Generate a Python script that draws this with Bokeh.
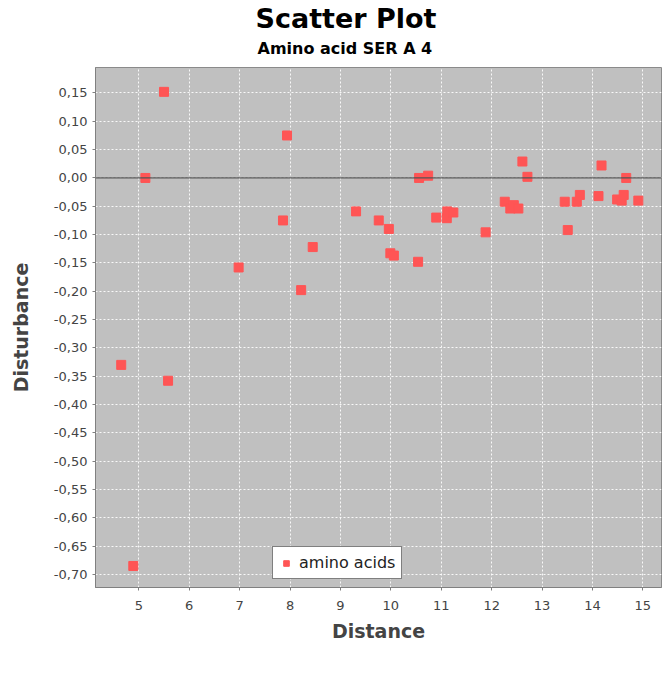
from bokeh.plotting import figure
from bokeh.models import (ColumnDataSource, FixedTicker, CustomJSTickFormatter, Span,
                          Title, Legend, LegendItem)
from bokeh.embed import file_html
from bokeh.resources import INLINE

# ---- data ----
distance = [4.65, 4.89, 5.13, 5.50, 5.58, 6.98, 7.86, 7.94, 8.22, 8.45,
            9.31, 9.76, 9.96, 9.99, 10.06, 10.54, 10.56, 10.74, 10.90, 11.11,
            11.12, 11.24, 11.88, 12.26, 12.37, 12.44, 12.53, 12.61, 12.71, 13.45,
            13.51, 13.69, 13.75, 14.12, 14.18, 14.49, 14.58, 14.62, 14.67, 14.91]
disturbance = [-0.330, -0.685, 0.000, 0.152, -0.358, -0.158, -0.075, 0.075, -0.198, -0.122,
               -0.059, -0.075, -0.090, -0.133, -0.137, -0.148, 0.000, 0.004, -0.070, -0.071,
               -0.059, -0.061, -0.096, -0.042, -0.054, -0.048, -0.054, 0.029, 0.002, -0.042,
               -0.092, -0.042, -0.030, -0.032, 0.022, -0.038, -0.040, -0.030, 0.000, -0.040]
x_ticks = [5, 6, 7, 8, 9, 10, 11, 12, 13, 14, 15]
y_ticks = [-0.70, -0.65, -0.60, -0.55, -0.50, -0.45, -0.40, -0.35, -0.30, -0.25,
           -0.20, -0.15, -0.10, -0.05, 0.00, 0.05, 0.10, 0.15]
series_name = "amino acids"
title_text = "Scatter Plot"
subtitle_text = "Amino acid SER A 4"

src = ColumnDataSource(data=dict(x=distance, y=disturbance))

p = figure(frame_width=566, frame_height=520, output_backend="svg", toolbar_location=None,
           x_range=(4.14, 15.37), y_range=(-0.723, 0.195),
           min_border_left=95, min_border_right=1, min_border_top=0, min_border_bottom=90)

p.background_fill_color = "#c0c0c0"
p.border_fill_color = "white"
p.outline_line_color = "#8a8a8a"

r = p.scatter("x", "y", source=src, marker="square", size=9,
              fill_color="#ff5555", line_color="#ff5555")

p.add_layout(Span(location=0, dimension="width", line_color="#555555", line_width=1.2))

for g in (p.xgrid, p.ygrid):
    g.grid_line_color = "white"
    g.grid_line_dash = "2 2"
    g.grid_line_width = 1
    g.grid_line_alpha = 0.9

p.xaxis.ticker = FixedTicker(ticks=x_ticks)
p.yaxis.ticker = FixedTicker(ticks=y_ticks)
p.yaxis.formatter = CustomJSTickFormatter(code="return tick.toFixed(2).replace('.', ',');")
p.xaxis.formatter = CustomJSTickFormatter(code="return tick.toFixed(0);")

p.xaxis.axis_label = "Distance"
p.yaxis.axis_label = "Disturbance"
for ax in (p.xaxis[0], p.yaxis[0]):
    ax.axis_label_text_font = "DejaVu Sans"
    ax.axis_label_text_font_style = "bold"
    ax.axis_label_text_font_size = "19px"
    ax.axis_label_text_color = "#444444"
    ax.major_label_text_font = "DejaVu Sans"
    ax.major_label_text_font_size = "13px"
    ax.major_label_text_color = "#444444"
    ax.axis_line_color = "#808080"
    ax.major_tick_line_color = "#808080"
    ax.major_tick_in = 0
    ax.major_tick_out = 3
    ax.minor_tick_line_color = None
p.xaxis.major_label_standoff = 10
p.xaxis.axis_label_standoff = 7
p.yaxis.major_label_standoff = 5
p.yaxis.axis_label_standoff = 19

# spacer between subtitle and plot area
spacer = Title(text=" ", text_font="DejaVu Sans", text_font_size="4px", standoff=0)
sub = Title(text=subtitle_text, align="left", offset=162, standoff=6,
            text_font="DejaVu Sans", text_font_style="bold", text_font_size="16px",
            text_color="black")
main = Title(text=title_text, align="left", offset=160, standoff=0,
             text_font="DejaVu Sans", text_font_style="bold", text_font_size="27px",
             text_color="black")
p.add_layout(spacer, "above")
p.add_layout(sub, "above")
p.add_layout(main, "above")

legend = Legend(items=[LegendItem(label=series_name, renderers=[r])],
                location=(177, 8), orientation="horizontal",
                border_line_color="black", border_line_width=1.2,
                background_fill_color="white", background_fill_alpha=1,
                label_text_font="DejaVu Sans", label_text_font_size="16px",
                label_text_color="#222222", padding=6, spacing=4, margin=0,
                label_standoff=6, glyph_width=14, glyph_height=14)
p.add_layout(legend, "center")

open("out.html", "w").write(file_html(p, INLINE))
